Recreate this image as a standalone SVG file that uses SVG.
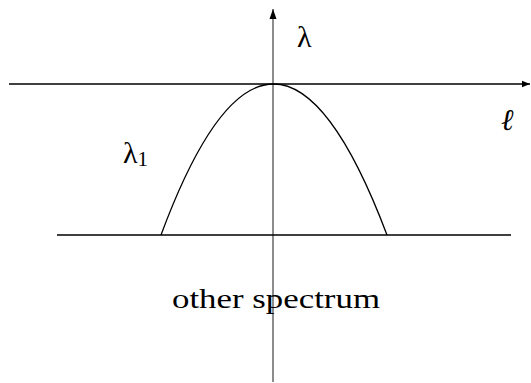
<svg xmlns="http://www.w3.org/2000/svg" width="531" height="383" viewBox="0 0 531 383">
<style>
.t{font-family:"Liberation Serif","DejaVu Serif",serif;fill:#000}
.ax{stroke:#000;stroke-width:1.3;fill:none}
</style>
<defs>
<marker id="ah" viewBox="0 0 10 10" refX="10" refY="5" markerWidth="8" markerHeight="8" markerUnits="userSpaceOnUse" orient="auto">
<path d="M0,1 L10,5 L0,9 Z" fill="#000"/>
</marker>
<marker id="ahg" viewBox="0 0 10 10" refX="10" refY="5" markerWidth="10" markerHeight="10" markerUnits="userSpaceOnUse" orient="auto">
<path d="M0,1.5 L10,5 L0,8.5 Z" fill="#000"/>
</marker>
</defs>
<g id="connectors">
<line x1="273" y1="382" x2="273" y2="9" stroke="#808080" stroke-width="1.8" marker-end="url(#ahg)"/>
<line class="ax" x1="9" y1="84" x2="530" y2="84" marker-end="url(#ah)"/>
<line class="ax" x1="57" y1="235" x2="511" y2="235"/>
<path class="ax" d="M161,235 Q273,-67 387,235"/>
</g>
<g id="labels">
<text class="t" x="297" y="47" font-size="30">λ</text>
<text class="t" x="501" y="130" font-size="30" font-style="italic">ℓ</text>
<text class="t" x="123" y="163" font-size="30">λ<tspan font-size="21" dy="3">1</tspan></text>
<text class="t" x="172" y="308" font-size="27" textLength="208" lengthAdjust="spacingAndGlyphs">other spectrum</text>
</g>
</svg>
